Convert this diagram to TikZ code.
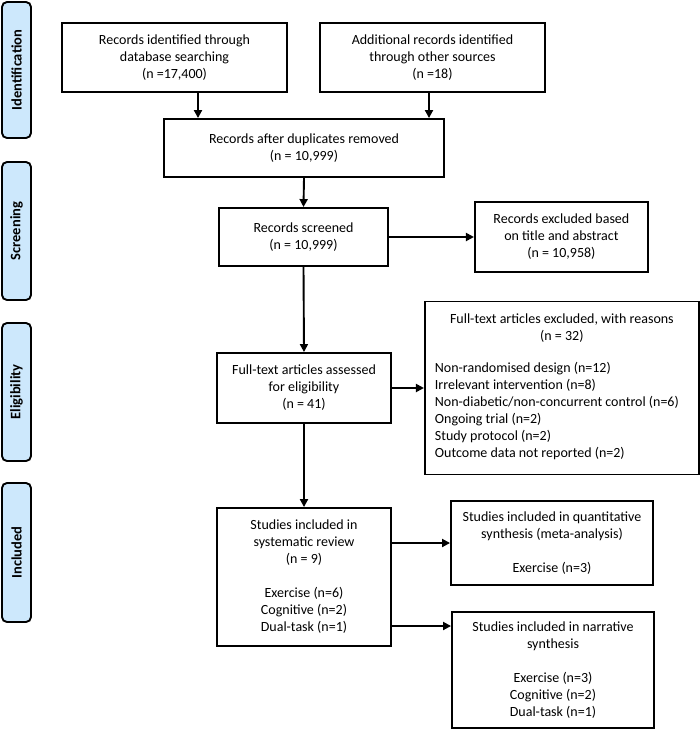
\documentclass[tikz,border=0pt]{standalone}
\usepackage{fontspec}
\setmainfont{Carlito}
\usepackage{tikz}
\usetikzlibrary{positioning,arrows.meta}
\definecolor{phasefill}{RGB}{205,232,252}

\begin{document}
\begin{tikzpicture}[
  x=1pt, y=-1pt,
  font=\fontsize{14}{17}\selectfont,
  flowbox/.style={draw,line width=1.9pt,align=center,inner sep=0pt},
  phase/.style={draw,line width=1.9pt,fill=phasefill,rounded corners=5pt,
    rotate=90,minimum height=29pt,inner sep=0pt,
    font=\fontsize{14.5}{17}\selectfont\bfseries},
  arr/.style={line width=1.9pt,-{Triangle[length=8pt,width=8pt]}},
]
\useasboundingbox (0,0) rectangle (700,729);

% phases on the left
\node[phase,minimum width=136pt] (ident) at (16.5,70) {Identification};
\node[phase,minimum width=138pt] (scr) at (16.5,231) {Screening};
\node[phase,minimum width=138pt] (elig) at (16.5,392) {Eligibility};
\node[phase,minimum width=139pt] (inc) at (16.5,552.5) {Included};

% flow boxes
\node[flowbox,minimum width=225pt,minimum height=69pt] (db) at (174.5,57.5)
  {Records identified through\\database searching\\(n =17,400)};
\node[flowbox,minimum width=225pt,minimum height=69pt] (other) at (432.5,57.5)
  {Additional records identified\\through other sources\\(n =18)};
\node[flowbox,minimum width=280pt,minimum height=58pt] (dup) at (304,148)
  {Records after duplicates removed\\(n = 10,999)};
\node[flowbox,minimum width=169pt,minimum height=58pt] (screen) at (303.5,237)
  {Records screened\\(n = 10,999)};
\node[flowbox,minimum width=173pt,minimum height=70pt,right=85pt of screen] (excl)
  {Records excluded based\\on title and abstract\\(n = 10,958)};
\node[flowbox,minimum width=174pt,minimum height=70pt] (full) at (304,388)
  {Full-text articles assessed\\for eligibility\\(n = 41)};
\node[flowbox,minimum width=274pt,minimum height=173pt,right=32pt of full] (exclfull)
  {Full-text articles excluded, with reasons\\(n = 32)\\[17pt]
   \begin{tabular}{@{}l@{\hspace{10pt}}}
   Non-randomised design (n=12)\\
   Irrelevant intervention (n=8)\\
   Non-diabetic/non-concurrent control (n=6)\\
   Ongoing trial (n=2)\\
   Study protocol (n=2)\\
   Outcome data not reported (n=2)
   \end{tabular}};
\node[flowbox,minimum width=174pt,minimum height=138pt] (incl) at (304,577)
  {Studies included in\\systematic review\\(n = 9)\\[17pt]Exercise (n=6)\\Cognitive (n=2)\\Dual-task (n=1)};
\node[flowbox,minimum width=202pt,minimum height=84pt] (quant) at (552,543)
  {Studies included in quantitative\\synthesis (meta-analysis)\\[17pt]Exercise (n=3)};
\node[flowbox,minimum width=202pt,minimum height=116pt] (narr) at (553,670)
  {Studies included in narrative\\synthesis\\[17pt]Exercise (n=3)\\Cognitive (n=2)\\Dual-task (n=1)};

% connectors
\coordinate (dbout) at ([xshift=23.5pt]db.south);
\coordinate (otherout) at ([xshift=-3.5pt]other.south);
\coordinate (narrin) at ([yshift=44pt]narr.west);
\draw[arr] (dbout) -- (dbout |- dup.north);
\draw[arr] (otherout) -- (otherout |- dup.north);
\draw[arr] (dup.south) -- (screen.north);
\draw[arr] (screen.east) -- (excl.west);
\draw[arr] (screen.south) -- (full.north);
\draw[arr] (full.east) -- (exclfull.west);
\draw[arr] (full.south) -- (incl.north);
\draw[arr] (incl.east |- quant.west) -- (quant.west);
\draw[arr] (incl.east |- narrin) -- (narrin);
\end{tikzpicture}
\end{document}
